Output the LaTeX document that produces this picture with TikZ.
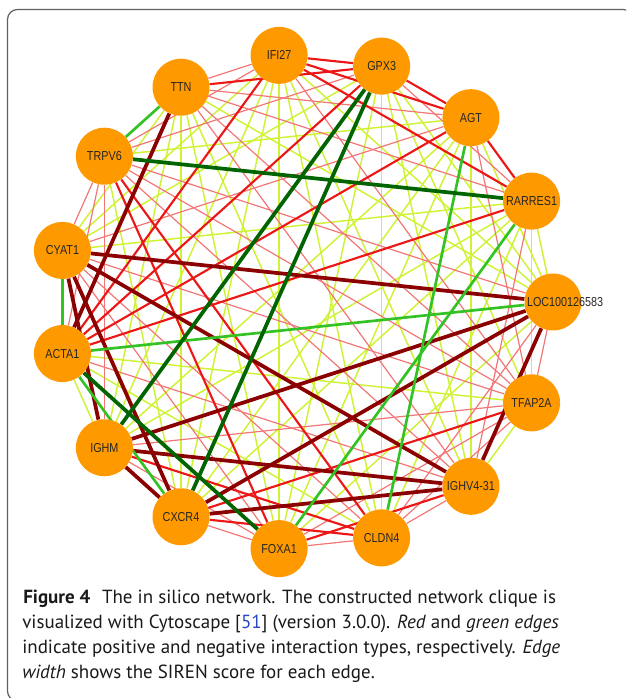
\documentclass[tikz,border=0pt]{standalone}
\usepackage{fontspec}
\setmainfont{PT Sans}
\newfontfamily\genefont[FakeStretch=0.83]{Liberation Sans}
\pgfdeclarelayer{edges}
\pgfsetlayers{edges,main}
\definecolor{nodeorange}{RGB}{255,153,0}
\definecolor{weakpos}{RGB}{206,243,52}
\definecolor{midpos}{RGB}{242,118,118}
\definecolor{pos}{RGB}{236,22,22}
\definecolor{strongpos}{RGB}{139,0,0}
\definecolor{neg}{RGB}{51,194,35}
\definecolor{strongneg}{RGB}{0,100,0}
\definecolor{framegray}{RGB}{95,95,95}
\definecolor{citeblue}{RGB}{40,70,200}
\tikzset{
    gene/.style={circle,fill=nodeorange,minimum size=42.75pt,inner sep=0pt,
        font=\genefont\fontsize{9.75pt}{10pt}\selectfont,text=black!85},
    yel/.style={draw=weakpos,line width=1.1pt},
    pnk/.style={draw=midpos,line width=0.9pt},
    rd/.style={draw=pos,line width=1.6pt},
    drd/.style={draw=strongpos,line width=2.8pt},
    lgr/.style={draw=neg,line width=2pt},
    dgr/.style={draw=strongneg,line width=2.8pt},
    captxt/.style={anchor=base west,inner sep=0pt,text=black!90,
        font=\fontsize{14.25pt}{18pt}\selectfont},
}

\begin{document}
\begin{tikzpicture}[x=0.75pt,y=0.75pt]
\useasboundingbox (0,0) rectangle (626,698);
\clip (0,0) rectangle (626,698);
\draw[framegray,line width=0.9pt,rounded corners=7.5pt] (7.5,-3) rectangle (633,688.5);

% genes on the circle
\begin{scope}[shift={(305,396)}]
\node[gene] (loc) at (0:248) {\makebox[0pt][l]{\hspace{-19.5pt}LOC100126583}};
\node[gene] (rar) at (24:248) {RARRES1};
\node[gene] (agt) at (48:248) {AGT};
\node[gene] (gpx) at (72:248) {GPX3};
\node[gene] (ifi) at (96:248) {IFI27};
\node[gene] (ttn) at (120:248) {TTN};
\node[gene] (trp) at (144:248) {TRPV6};
\node[gene] (cya) at (168:248) {CYAT1};
\node[gene] (act) at (192:248) {ACTA1};
\node[gene] (ighm) at (216:248) {IGHM};
\node[gene] (cxc) at (240:248) {CXCR4};
\node[gene] (fox) at (264:248) {FOXA1};
\node[gene] (cld) at (288:248) {CLDN4};
\node[gene] (ighv) at (312:248) {IGHV4-31};
\node[gene] (tfa) at (336:248) {TFAP2A};
\end{scope}

\begin{pgfonlayer}{edges}
% weak edges
\foreach \a/\b in {loc/rar,loc/agt,loc/gpx,loc/ifi,loc/ttn,loc/fox,rar/cya,rar/cxc,rar/cld,rar/tfa,
    rar/ighm,agt/trp,agt/ighm,agt/cxc,agt/fox,agt/ighv,gpx/cya,gpx/fox,gpx/cld,gpx/ighv,gpx/tfa,
    ifi/cya,ifi/ighm,ifi/cxc,ifi/fox,ifi/cld,ifi/ighv,ttn/cya,ttn/ighm,ttn/cxc,ttn/fox,ttn/cld,
    trp/cxc,act/ighm,act/cld,act/tfa,ighv/tfa}
    \draw[yel] (\a) -- (\b);
\foreach \a/\b in {loc/trp,loc/cld,loc/tfa,rar/gpx,rar/ttn,rar/ighv,agt/ttn,agt/cya,agt/tfa,
    gpx/trp,ifi/ttn,ifi/trp,ifi/tfa,ttn/ighv,ttn/tfa,trp/cya,trp/act,trp/ighm,
    trp/ighv,trp/tfa,cya/fox,cya/cld,cya/tfa,act/ighv,ighm/fox,ighm/tfa,cxc/fox,fox/cld,fox/tfa,cld/ighv,cld/tfa}
    \draw[pnk] (\a) -- (\b);
% positive
\foreach \a/\b in {rar/agt,rar/ifi,rar/act,agt/gpx,agt/ifi,agt/act,gpx/ifi,gpx/ttn,gpx/act,ifi/act,
    trp/fox,trp/cld,ighm/cld,cxc/cld,cxc/tfa,fox/ighv}
    \draw[rd] (\a) -- (\b);
\foreach \a/\b in {loc/cya,loc/ighm,loc/cxc,loc/ighv,ttn/act,cya/ighm,cya/cxc,cya/ighv,ighm/cxc,ighm/ighv,cxc/ighv}
    \draw[drd] (\a) -- (\b);
% negative
\foreach \a/\b in {loc/act,rar/fox,agt/cld,ttn/trp,cya/act,act/cxc}
    \draw[lgr] (\a) -- (\b);
\foreach \a/\b in {rar/trp,gpx/ighm,gpx/cxc,act/fox}
    \draw[dgr] (\a) -- (\b);
\end{pgfonlayer}

% caption
\node[captxt] (cap1) at (23,94) {\textbf{Figure 4}\hspace{0.35em} The in silico network. The constructed network clique is};
\node[captxt] (cap2) at (22,69) {visualized with Cytoscape [\textcolor{citeblue}{51}] (version 3.0.0). \textit{Red} and \textit{green edges}};
\node[captxt] (cap3) at (22,44) {indicate positive and negative interaction types, respectively. \textit{Edge}};
\node[captxt] (cap4) at (22,19) {\textit{width} shows the SIREN score for each edge.};
\end{tikzpicture}
\end{document}
